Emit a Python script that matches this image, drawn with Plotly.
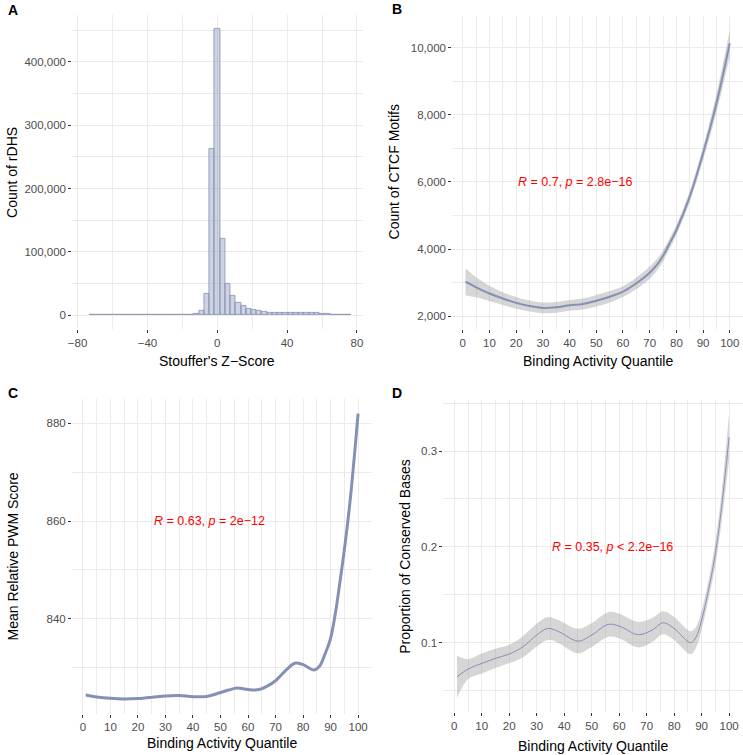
import plotly.graph_objects as go

# ---------------- Data ----------------
# Panel A: histogram of Stouffer's Z-score (bin centers, width 3)
hist_centers = list(range(-72, 76, 3))
hist_counts = [150, 150, 150, 150, 150, 150, 150, 150, 150, 150,
               150, 150, 150, 200, 200, 250, 300, 400, 500, 700,
               1600, 7000, 34000, 263000, 452000, 120000, 50000, 30000, 20000, 14000,
               10500, 8000, 6500, 5000, 4000, 3500, 3100, 2900, 2800, 2800,
               2800, 2900, 3000, 3000, 2700, 1500, 800, 400, 200, 100]

# Panel B: CTCF motif counts (smoothed) by binding activity quantile
b_x = [1, 5, 10, 15, 20, 25, 30, 35, 40, 45, 50, 55, 60, 65, 70, 73, 75, 77, 80, 85, 90, 95, 100]
b_y = [3030, 2864, 2680, 2530, 2400, 2307, 2250, 2267, 2327, 2367, 2465, 2584, 2734, 2983, 3300,
       3560, 3800, 4100, 4570, 5562, 6854, 8343, 10130]
b_se = [400, 300, 230, 190, 175, 165, 160, 160, 160, 165, 170, 170, 160, 170, 180,
        175, 165, 160, 150, 160, 200, 280, 400]

# Panel C: mean relative PWM score
c_x = [1, 5, 10, 15, 20, 25, 30, 35, 40, 45, 50, 53, 56, 60, 64, 67, 70, 74, 77, 80, 84, 86, 88,
       90, 92, 93, 95, 97, 99, 100]
c_y = [824.4, 824.0, 823.7, 823.55, 823.65, 823.9, 824.2, 824.3, 824.05, 824.1, 824.9, 825.4,
       825.8, 825.5, 825.5, 826.2, 827.3, 829.6, 830.9, 830.6, 829.5, 830.3, 832.8,
       836.0, 842.0, 845.9, 854.1, 863.6, 875.5, 882.0]

# Panel D: proportion of conserved bases
d_x = [1, 5, 10, 15, 20, 25, 30, 34, 38, 45, 50, 56, 60, 67, 72, 76, 80, 86, 88, 90, 93, 95, 97, 100]
d_y = [0.0645, 0.0725, 0.0784, 0.0837, 0.0882, 0.0958, 0.108, 0.1149, 0.1115, 0.1017, 0.108,
       0.1191, 0.1174, 0.1083, 0.1132, 0.1208, 0.1149, 0.1000, 0.106, 0.1236, 0.162, 0.193,
       0.235, 0.3146]
d_se = [0.022, 0.0105, 0.0104, 0.0100, 0.0097, 0.011, 0.012, 0.012, 0.012, 0.0128, 0.0125,
        0.0128, 0.0128, 0.0133, 0.0125, 0.012, 0.012, 0.012, 0.011, 0.010, 0.010, 0.012,
        0.015, 0.024]

quant_ticks = list(range(0, 101, 10))

# ---------------- Styles ----------------
FONT = "Liberation Sans, Arial, Helvetica, sans-serif"
LINE_COL = "#8491B4"
FILL_COL = "rgba(132,145,180,0.4)"
RIB_COL = "rgba(153,153,153,0.4)"
GRID = "#EBEBEB"
W, H = 743, 755

fig = go.Figure()

# Panel A
fig.add_trace(go.Bar(x=hist_centers, y=hist_counts, width=3,
                     marker=dict(color=FILL_COL, line=dict(color=LINE_COL, width=0.8)),
                     xaxis="x", yaxis="y", showlegend=False))

# Panel B
b_up = [y + s for y, s in zip(b_y, b_se)]
b_lo = [y - s for y, s in zip(b_y, b_se)]
fig.add_trace(go.Scatter(x=b_x, y=b_up, mode="lines", line=dict(width=0, shape="spline"),
                         xaxis="x2", yaxis="y2", showlegend=False, hoverinfo="skip"))
fig.add_trace(go.Scatter(x=b_x, y=b_lo, mode="lines", line=dict(width=0, shape="spline"),
                         fill="tonexty", fillcolor=RIB_COL,
                         xaxis="x2", yaxis="y2", showlegend=False, hoverinfo="skip"))
fig.add_trace(go.Scatter(x=b_x, y=b_y, mode="lines", line=dict(color=LINE_COL, width=2, shape="spline"),
                         xaxis="x2", yaxis="y2", showlegend=False))

# Panel C
fig.add_trace(go.Scatter(x=c_x, y=c_y, mode="lines", line=dict(color=LINE_COL, width=3, shape="spline"),
                         xaxis="x3", yaxis="y3", showlegend=False))

# Panel D
d_up = [y + s for y, s in zip(d_y, d_se)]
d_lo = [y - s for y, s in zip(d_y, d_se)]
fig.add_trace(go.Scatter(x=d_x, y=d_up, mode="lines", line=dict(width=0, shape="spline"),
                         xaxis="x4", yaxis="y4", showlegend=False, hoverinfo="skip"))
fig.add_trace(go.Scatter(x=d_x, y=d_lo, mode="lines", line=dict(width=0, shape="spline"),
                         fill="tonexty", fillcolor=RIB_COL,
                         xaxis="x4", yaxis="y4", showlegend=False, hoverinfo="skip"))
fig.add_trace(go.Scatter(x=d_x, y=d_y, mode="lines", line=dict(color=LINE_COL, width=1, shape="spline"),
                         xaxis="x4", yaxis="y4", showlegend=False))


def px_x(p):
    return p / W


def px_y(p):
    return 1 - p / H


def axis(domain, rng, anchor, tickvals=None, dtick=None, minor_dtick=None, tickformat=None):
    a = dict(domain=domain, range=rng, anchor=anchor, showgrid=True, gridcolor=GRID, gridwidth=1,
             zeroline=False, showline=False, ticks="outside", ticklen=3, tickwidth=1,
             tickcolor="#333333", tickfont=dict(family=FONT, size=11.5, color="#4D4D4D"),
             fixedrange=True)
    if tickvals is not None:
        a["tickmode"] = "array"
        a["tickvals"] = tickvals
    if dtick is not None:
        a["tickmode"] = "linear"
        a["dtick"] = dtick
    if minor_dtick is not None:
        a["minor"] = dict(dtick=minor_dtick, showgrid=True, gridcolor=GRID, gridwidth=0.6, ticks="")
    if tickformat:
        a["tickformat"] = tickformat
    return a


layout = dict(
    width=W, height=H, margin=dict(l=0, r=0, t=0, b=0),
    paper_bgcolor="white", plot_bgcolor="white", bargap=0,
    font=dict(family=FONT),
    xaxis=axis([px_x(68.7), px_x(361)], [-83, 83.5], "y", tickvals=[-80, -40, 0, 40, 80], minor_dtick=20),
    yaxis=axis([px_y(329.3), px_y(14.8)], [-22600, 474600], "x",
               tickvals=[0, 100000, 200000, 300000, 400000], minor_dtick=50000, tickformat=","),
    xaxis2=axis([px_x(450.7), 1.0], [-3.95, 104.95], "y2", tickvals=quant_ticks, minor_dtick=5),
    yaxis2=axis([px_y(329.2), px_y(15.8)], [1616, 10949], "x2",
                tickvals=[2000, 4000, 6000, 8000, 10000], minor_dtick=1000, tickformat=","),
    xaxis3=axis([px_x(68.4), px_x(369.7)], [-3.95, 104.95], "y3", tickvals=quant_ticks, minor_dtick=5),
    yaxis3=axis([px_y(713.5), px_y(399.4)], [820.6, 884.9], "x3",
                tickvals=[840, 860, 880], minor_dtick=10),
    xaxis4=axis([px_x(441.8), px_x(742.7)], [-3.95, 104.95], "y4", tickvals=quant_ticks, minor_dtick=5),
    yaxis4=axis([px_y(712), px_y(399.5)], [0.0277, 0.3538], "x4",
                tickvals=[0.1, 0.2, 0.3], minor_dtick=0.05),
)
fig.update_layout(**layout)

ann = []
# panel labels
for lab, x, y in [("A", 9, 10), ("B", 395, 9), ("C", 9, 393), ("D", 395, 393)]:
    ann.append(dict(text="<b>%s</b>" % lab, x=px_x(x), y=px_y(y), xref="paper", yref="paper",
                    showarrow=False, xanchor="center", yanchor="middle",
                    font=dict(family=FONT, size=14, color="black")))
# axis titles (x)
for t, x, y in [("Stouffer's Z\u2212Score", 214.5, 361), ("Binding Activity Quantile", 597, 361),
                ("Binding Activity Quantile", 219, 742.5), ("Binding Activity Quantile", 592.4, 745.5)]:
    ann.append(dict(text=t, x=px_x(x), y=px_y(y), xref="paper", yref="paper", showarrow=False,
                    xanchor="center", yanchor="middle", font=dict(family=FONT, size=14, color="black")))
# axis titles (y)
for t, x, y in [("Count of rDHS", 8, 172), ("Count of CTCF Motifs", 392.5, 172),
                ("Mean Relative PWM Score", 9.5, 556), ("Proportion of Conserved Bases", 402.5, 556.5)]:
    ann.append(dict(text=t, x=px_x(x), y=px_y(y), xref="paper", yref="paper", showarrow=False,
                    textangle=-90, xanchor="center", yanchor="middle",
                    font=dict(family=FONT, size=14, color="black")))
# correlation labels
for t, x, y, xr, yr in [("<i>R</i> = 0.7, <i>p</i> = 2.8e\u221216", 20, 6000, "x2", "y2"),
                        ("<i>R</i> = 0.63, <i>p</i> = 2e\u221212", 25, 860, "x3", "y3"),
                        ("<i>R</i> = 0.35, <i>p</i> &lt; 2.2e\u221216", 35, 0.2, "x4", "y4")]:
    ann.append(dict(text=t, x=x, y=y, xref=xr, yref=yr, showarrow=False, xanchor="left",
                    yanchor="middle", font=dict(family=FONT, size=12.5, color="#FF0000")))
fig.update_layout(annotations=ann)

fig.write_html("out.html")
